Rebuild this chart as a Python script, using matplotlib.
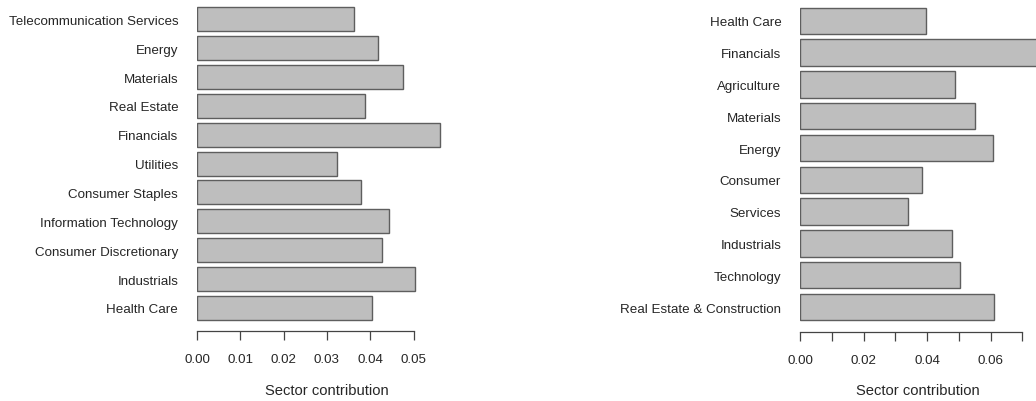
import matplotlib
matplotlib.use("Agg")
import matplotlib.pyplot as plt

# Sector contributions, listed top to bottom
left_sectors = ["Telecommunication Services", "Energy", "Materials", "Real Estate",
                "Financials", "Utilities", "Consumer Staples", "Information Technology",
                "Consumer Discretionary", "Industrials", "Health Care"]
left_values = [0.0362, 0.0417, 0.0476, 0.0388, 0.0561, 0.0323, 0.0379, 0.0444,
               0.0428, 0.0502, 0.0405]
left_ticks = [0.00, 0.01, 0.02, 0.03, 0.04, 0.05]
left_ticklabels = ["0.00", "0.01", "0.02", "0.03", "0.04", "0.05"]

right_sectors = ["Health Care", "Financials", "Agriculture", "Materials", "Energy",
                 "Consumer", "Services", "Industrials", "Technology",
                 "Real Estate & Construction"]
right_values = [0.0396, 0.0850, 0.0488, 0.0550, 0.0606, 0.0383, 0.0341, 0.0478,
                0.0505, 0.0610]
right_ticks = [0.00, 0.01, 0.02, 0.03, 0.04, 0.05, 0.06, 0.07]
right_ticklabels = ["0.00", "", "0.02", "", "0.04", "", "0.06", ""]

xlabel = "Sector contribution"

plt.rcParams["font.family"] = ["Liberation Sans", "DejaVu Sans"]

W, H = 1036, 402
fig = plt.figure(figsize=(W / 100, H / 100), dpi=100)

TEXT = "#262626"
FILL = "#bebebe"
EDGE = "#5e5e5e"
FS = 9.65


def px_axes(x0, y0, x1, y1):
    """Axes placed by pixel box (origin top-left)."""
    return fig.add_axes([x0 / W, 1 - y1 / H, (x1 - x0) / W, (y1 - y0) / H])


def panel(ax, names, values, ticks, ticklabels, spine_max, xmax, ylims, height):
    pos = list(range(len(names)))
    ax.barh(pos, values, height=height, color=FILL, edgecolor=EDGE, linewidth=1.0)
    ax.set_xlim(0, xmax)
    ax.set_ylim(*ylims)
    ax.set_yticks(pos)
    ax.set_yticklabels(names, fontsize=FS, color=TEXT)
    ax.tick_params(axis="y", length=0, pad=13.5)
    ax.set_xticks(ticks)
    ax.set_xticklabels(ticklabels, fontsize=FS, color=TEXT)
    ax.tick_params(axis="x", direction="out", length=6.5, width=0.9,
                   color="#444444", pad=9.5)
    for side in ("top", "right", "left"):
        ax.spines[side].set_visible(False)
    ax.spines["bottom"].set_bounds(0, spine_max)
    ax.spines["bottom"].set_color("#444444")
    ax.spines["bottom"].set_linewidth(0.9)
    ax.set_xlabel(xlabel, fontsize=10.6, color=TEXT, labelpad=12.5)


axL = px_axes(197, 0, 197 + 0.06 * 4333, 332)
panel(axL, left_sectors, left_values, left_ticks, left_ticklabels, 0.05, 0.06,
      (10.803, -0.709), 0.833)

axR = px_axes(800, 0, 1036, 332.5)
panel(axR, right_sectors, right_values, right_ticks, right_ticklabels, 0.07,
      236 / 3178, (9.77, -0.686), 0.833)

fig.savefig("out.png", dpi=100)
